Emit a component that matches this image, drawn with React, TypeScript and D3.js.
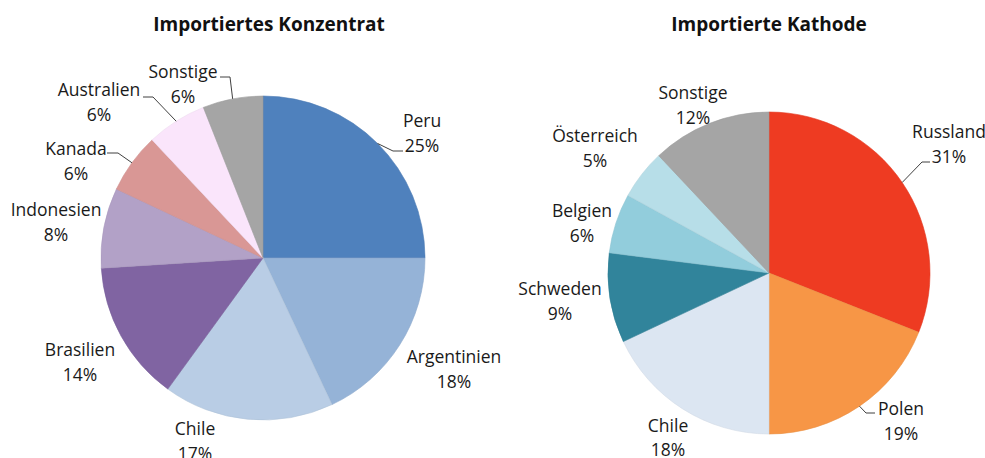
import React from "react";
import * as d3 from "d3";

// ---- Data ----
const leftTitle = "Importiertes Konzentrat";
const leftCategories = ["Peru", "Argentinien", "Chile", "Brasilien", "Indonesien", "Kanada", "Australien", "Sonstige"];
const leftValues = [25, 18, 17, 14, 8, 6, 6, 6];

const rightTitle = "Importierte Kathode";
const rightCategories = ["Russland", "Polen", "Chile", "Schweden", "Belgien", "Österreich", "Sonstige"];
const rightValues = [31, 19, 18, 9, 6, 5, 12];

// ---- Styles / layout ----
const leftColors = ["#4F81BD", "#95B3D7", "#B9CDE5", "#8064A2", "#B2A1C7", "#D99795", "#FAE5FB", "#A5A5A5"];
const rightColors = ["#EE3B22", "#F79646", "#DCE6F2", "#31849B", "#92CDDC", "#B7DEE8", "#A5A5A5"];

// label anchor (center x, name baseline y) relative to pie center
const leftLabelPos: [number, number][] = [
  [159, -131], [191, 105], [-68, 177], [-183, 98], [-207, -42], [-187, -103], [-164, -162], [-80, -180],
];
const rightLabelPos: [number, number][] = [
  [180, -135], [132, 142], [-101, 158.5], [-209, 22], [-187, -56], [-174, -131], [-76, -174],
];
// leader elbow & end points (relative to pie center); null = no leader
const leftLeaders: ([number, number][] | null)[] = [
  [[130, -107], [140, -107]], null, null, null, null,
  [[-145, -105], [-156, -105]], [[-110, -161], [-120, -161]], [[-33, -181], [-43, -181]],
];
const rightLeaders: ([number, number][] | null)[] = [
  [[153, -111], [161, -111]], [[97, 140], [106, 140]], null, null, null, null, null,
];

const W = 985;
const H = 458;
const font = "'Open Sans', sans-serif";

type PieProps = {
  cx: number; cy: number; r: number;
  title: string; titleX: number;
  categories: string[]; values: number[]; colors: string[];
  labelPos: [number, number][];
  leaders: ([number, number][] | null)[];
};

function Pie({ cx, cy, r, title, titleX, categories, values, colors, labelPos, leaders }: PieProps) {
  const pie = d3.pie<number>().sort(null).value((d) => d)(values);
  const arc = d3.arc<d3.PieArcDatum<number>>().innerRadius(0).outerRadius(r);
  const total = d3.sum(values);
  return (
    <g>
      <text x={titleX} y={31} textAnchor="middle" fontFamily={font} fontWeight={700} fontSize={19} fill="#111">
        {title}
      </text>
      <g transform={`translate(${cx},${cy})`}>
        {pie.map((p, i) => (
          <path key={i} d={arc(p) || ""} fill={colors[i]}
            stroke={d3.color(colors[i])!.darker(0.15).formatHex()} strokeWidth={0.6} />
        ))}
        {pie.map((p, i) => {
          const ld = leaders[i];
          if (!ld) return null;
          const mid = (p.startAngle + p.endAngle) / 2;
          const ex = r * Math.sin(mid);
          const ey = -r * Math.cos(mid);
          const pts: [number, number][] = [[ex, ey], ...ld];
          return <path key={"l" + i} d={d3.line()(pts) || ""} fill="none" stroke="#404040" strokeWidth={1} />;
        })}
        {pie.map((p, i) => {
          const [lx, ly] = labelPos[i];
          const pct = Math.round((values[i] / total) * 100) + "%";
          return (
            <text key={"t" + i} textAnchor="middle" fontFamily={font} fontSize={17.5} fill="#1a1a1a">
              <tspan x={lx} y={ly}>{categories[i]}</tspan>
              <tspan x={lx} y={ly + 24.5}>{pct}</tspan>
            </text>
          );
        })}
      </g>
    </g>
  );
}

export default function App() {
  return (
    <svg width={W} height={H} style={{ position: "absolute", left: 0, top: 0, background: "#fff" }}>
      <rect width={W} height={H} fill="#fff" />
      <Pie cx={263} cy={258} r={162} title={leftTitle} titleX={269}
        categories={leftCategories} values={leftValues} colors={leftColors}
        labelPos={leftLabelPos} leaders={leftLeaders} />
      <Pie cx={769} cy={273} r={161} title={rightTitle} titleX={769}
        categories={rightCategories} values={rightValues} colors={rightColors}
        labelPos={rightLabelPos} leaders={rightLeaders} />
    </svg>
  );
}
